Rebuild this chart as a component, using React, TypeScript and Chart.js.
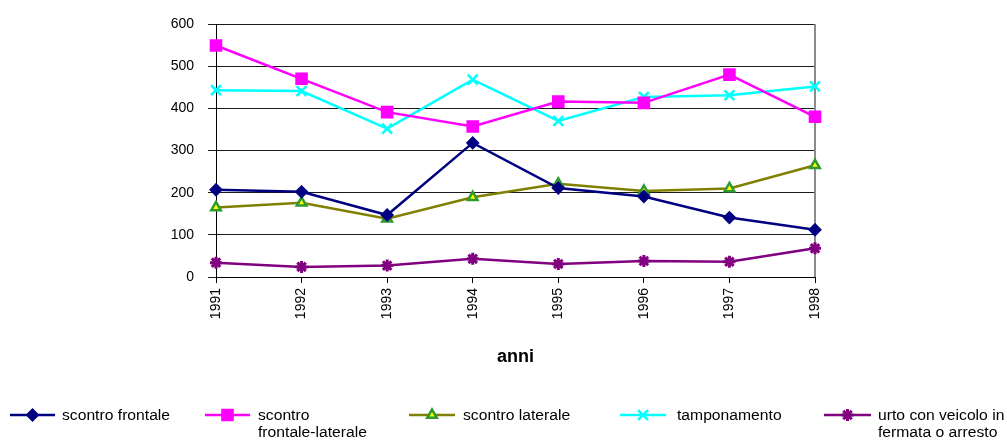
import React, { useEffect, useRef } from 'react';
import { Chart, registerables } from 'chart.js';
import { drawPoint } from 'chart.js/helpers';

Chart.register(...registerables);

// Years on the category axis
const years = ['1991', '1992', '1993', '1994', '1995', '1996', '1997', '1998'];

// Counts per accident type
const scontroFrontale = [207, 202, 147, 318, 211, 191, 141, 112];
const scontroFrontaleLaterale = [549, 470, 391, 357, 416, 413, 480, 380];
const scontroLaterale = [165, 176, 138, 189, 221, 204, 210, 265];
const tamponamento = [443, 441, 352, 468, 370, 427, 431, 452];
const urtoVeicoloFermo = [34, 24, 27, 43, 31, 38, 36, 68];

// Legend text, one entry per line
const legendLines = [
  ['scontro frontale'],
  ['scontro', 'frontale-laterale'],
  ['scontro laterale'],
  ['tamponamento'],
  ['urto con veicolo in', 'fermata o arresto'],
];

const yTicks = [0, 100, 200, 300, 400, 500, 600];

const FONT = '"Liberation Sans", Arial, Helvetica, sans-serif';

// Legend slots along the bottom row: line start, line length, text start
const legendSlots = [
  { x: 10, w: 45, tx: 62 },
  { x: 205, w: 45, tx: 258 },
  { x: 409, w: 46, tx: 463 },
  { x: 620, w: 46, tx: 677 },
  { x: 824, w: 47, tx: 878 },
];

const plotFrame = {
  id: 'plotFrame',
  beforeDatasetsDraw(chart: any) {
    const { ctx, chartArea } = chart;
    ctx.save();
    ctx.strokeStyle = '#8c8c8c';
    ctx.lineWidth = 2;
    ctx.beginPath();
    ctx.moveTo(chartArea.right, chartArea.top);
    ctx.lineTo(chartArea.right, chartArea.bottom);
    ctx.stroke();
    ctx.restore();
  },
};

const bottomLegend = {
  id: 'bottomLegend',
  afterDraw(chart: any) {
    const { ctx } = chart;
    const lineY = 415;
    chart.data.datasets.forEach((ds: any, i: number) => {
      const slot = legendSlots[i];
      ctx.save();
      ctx.strokeStyle = ds.borderColor;
      ctx.lineWidth = ds.borderWidth;
      ctx.beginPath();
      ctx.moveTo(slot.x, lineY);
      ctx.lineTo(slot.x + slot.w, lineY);
      ctx.stroke();
      ctx.fillStyle = ds.pointBackgroundColor;
      ctx.strokeStyle = ds.pointBorderColor;
      ctx.lineWidth = ds.pointBorderWidth;
      drawPoint(
        ctx,
        { pointStyle: ds.pointStyle, radius: ds.pointRadius, rotation: 0, borderWidth: ds.pointBorderWidth },
        slot.x + slot.w / 2,
        lineY
      );
      ctx.restore();

      ctx.save();
      ctx.fillStyle = '#000';
      ctx.font = `14px ${FONT}`;
      ctx.textAlign = 'left';
      ctx.textBaseline = 'alphabetic';
      legendLines[i].forEach((line, k) => {
        ctx.save();
        ctx.translate(slot.tx, 420 + k * 17);
        ctx.scale(1.12, 1);
        ctx.fillText(line, 0, 0);
        ctx.restore();
      });
      ctx.restore();
    });
  },
};

function series(
  label: string,
  data: number[],
  color: string,
  style: string,
  radius: number,
  markerWidth: number,
  fill?: string,
  border?: string
) {
  return {
    label,
    data,
    borderColor: color,
    backgroundColor: color,
    borderWidth: 2.5,
    pointStyle: style,
    pointRadius: radius,
    pointHoverRadius: radius,
    pointBackgroundColor: fill ?? color,
    pointBorderColor: border ?? color,
    pointBorderWidth: markerWidth,
    tension: 0,
    fill: false,
  };
}

export default function App() {
  const canvasRef = useRef<HTMLCanvasElement | null>(null);

  useEffect(() => {
    if (!canvasRef.current) return;
    const chart = new Chart(canvasRef.current, {
      type: 'line',
      data: {
        labels: years,
        datasets: [
          series('scontro frontale', scontroFrontale, '#000080', 'rectRot', 5.5, 2),
          series('scontro frontale-laterale', scontroFrontaleLaterale, '#FF00FF', 'rect', 7.5, 2),
          series('scontro laterale', scontroLaterale, '#808000', 'triangle', 5.5, 2.5, '#FFFF00', '#2f9a2f'),
          series('tamponamento', tamponamento, '#00FFFF', 'crossRot', 7, 2.5),
          series('urto con veicolo in fermata o arresto', urtoVeicoloFermo, '#800080', 'star', 6, 3),
        ],
      },
      options: {
        animation: false,
        responsive: true,
        maintainAspectRatio: false,
        layout: { padding: { left: 0, top: 24, right: 192, bottom: 73 } },
        plugins: {
          legend: { display: false },
          tooltip: { enabled: false },
        },
        scales: {
          x: {
            type: 'category',
            offset: false,
            afterFit: (s: any) => {
              s.height = 91;
            },
            grid: {
              drawOnChartArea: false,
              drawTicks: true,
              tickLength: 6,
              color: '#000',
            },
            border: { display: true, color: '#000', width: 1 },
            ticks: {
              minRotation: 90,
              maxRotation: 90,
              autoSkip: false,
              padding: 5,
              color: '#000',
              font: { family: FONT, size: 14 },
            },
            title: {
              display: true,
              text: 'anni',
              color: '#000',
              padding: 0,
              font: { family: FONT, size: 18, weight: 'bold' },
            },
          },
          y: {
            min: 0,
            max: 600,
            afterFit: (s: any) => {
              s.width = 216;
            },
            afterBuildTicks: (s: any) => {
              s.ticks = yTicks.map((v) => ({ value: v }));
            },
            grid: {
              color: '#1a1a1a',
              lineWidth: 1,
              drawTicks: true,
              tickLength: 8,
            },
            border: { display: true, color: '#000', width: 1 },
            ticks: {
              padding: 14,
              color: '#000',
              font: { family: FONT, size: 14 },
            },
          },
        },
      },
      plugins: [plotFrame, bottomLegend],
    } as any);
    return () => chart.destroy();
  }, []);

  return (
    <div style={{ position: 'absolute', left: 0, top: 0, width: 1007, height: 441, background: '#fff' }}>
      <canvas ref={canvasRef} />
    </div>
  );
}
